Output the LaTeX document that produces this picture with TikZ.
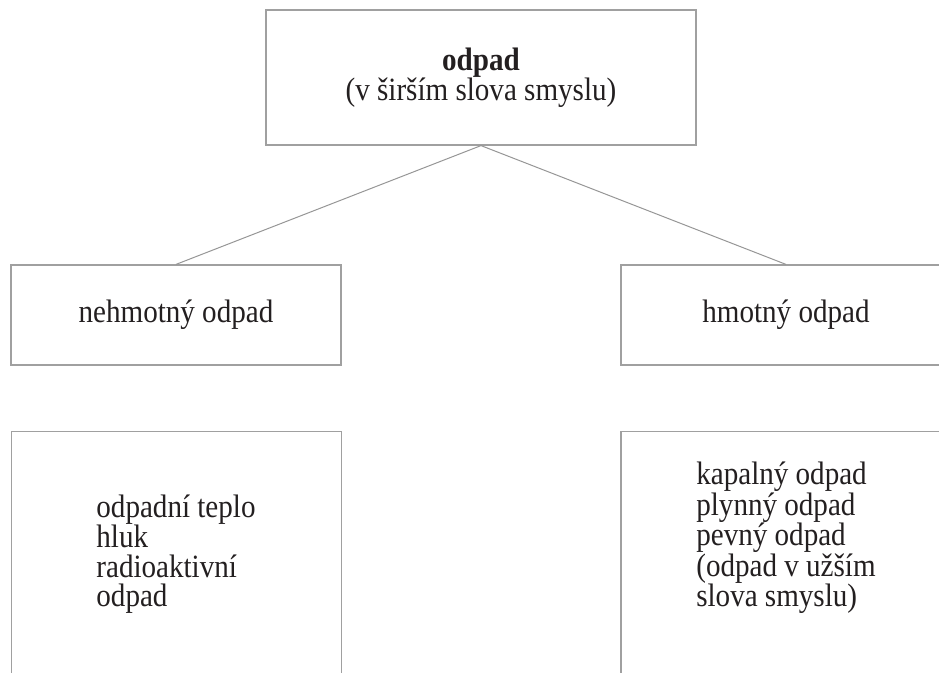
\documentclass[tikz,border=0pt]{standalone}
\usepackage{fontspec}
\setmainfont{Liberation Serif}[FakeStretch=0.895]
\definecolor{frame}{RGB}{160,160,160}
\definecolor{link}{RGB}{150,150,150}
\definecolor{ink}{RGB}{35,31,32}
\begin{document}
\begin{tikzpicture}[x=1pt,y=-1pt,
  box/.style={draw=frame, line width=1.2pt, rectangle, inner sep=0pt,
    minimum width=#1, text=ink, align=center,
    font=\fontsize{32.5}{29.3}\selectfont},
  box/.default=330pt,
  txt/.style={text=ink, align=left, inner sep=0pt,
    font=\fontsize{32.5}{29.3}\selectfont},
  link/.style={draw=link, line width=1pt}]
  \useasboundingbox (0,0) rectangle (939,672);
  \clip (0,0) rectangle (939,672);

  % root of the tree
  \node[box=430pt, minimum height=135pt] (top) at (481,77.5)
    {\textbf{odpad}\\(v širším slova smyslu)};

  % two kinds of waste
  \node[box, minimum height=100pt] (lmid) at (176,315) {nehmotný odpad};
  \node[box, minimum height=100pt] (rmid) at (786,315) {hmotný odpad};

  % lists of examples (boxes run past the lower edge)
  \node[box, minimum height=300pt, anchor=north] (lbox) at (176.5,431) {};
  \node[box, minimum height=300pt, anchor=north] (rbox) at (786,431) {};
  \node[txt] (ltext) at (176,554)
    {odpadní teplo\\hluk\\radioaktivní\\odpad};
  \node[txt] (rtext) at (786,538)
    {kapalný odpad\\plynný odpad\\pevný odpad\\(odpad v užším\\slova smyslu)};

  % connectors
  \draw[link] (top.south) -- (lmid.north);
  \draw[link] (top.south) -- (rmid.north);
\end{tikzpicture}
\end{document}
